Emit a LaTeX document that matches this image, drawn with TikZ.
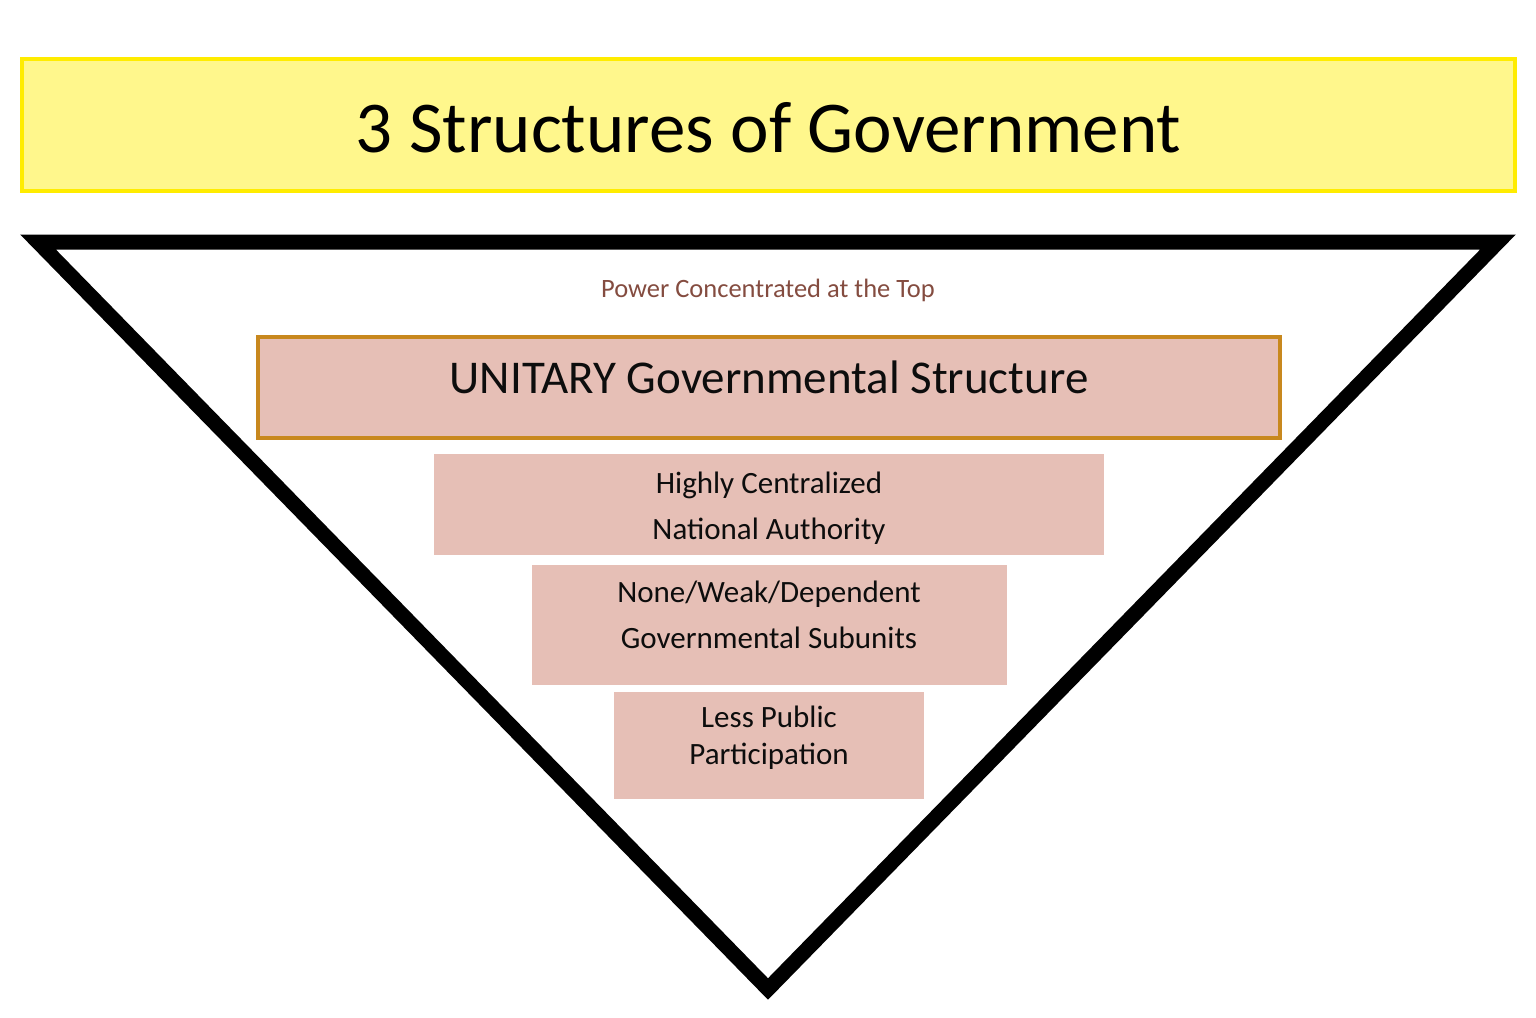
\documentclass[tikz,border=0pt]{standalone}
\usepackage{fontspec}
\setmainfont{Carlito}
\usepackage{tikz}
\usetikzlibrary{positioning}

\definecolor{titlefill}{RGB}{255,247,140}
\definecolor{titleline}{RGB}{255,236,0}
\definecolor{boxfill}{RGB}{230,191,182}
\definecolor{boxline}{RGB}{200,136,30}
\definecolor{powertext}{RGB}{132,76,64}

% raise a (multi-line) label inside its box, keeping the box size
\newcommand{\liftlabel}[2]{\raisebox{#1}[\height][\depth]{\begin{tabular}{@{}c@{}}#2\end{tabular}}}

\begin{document}
\begin{tikzpicture}[x=1pt,y=-1pt,
        every node/.style={outer sep=0pt,inner sep=0pt},
        level/.style={fill=boxfill,text=black!95,
          font=\fontsize{31}{46}\selectfont}]
   \useasboundingbox (0,0) rectangle (1536,1017);
   % heading
   \node (title) [draw=titleline,line width=4,fill=titlefill,
      minimum width=1493,minimum height=132,
      font=\fontsize{73}{88}\selectfont] at (768.5,125) {\liftlabel{-10pt}{3 Structures of Government}};
   % the triangle
   \draw[line width=15,miter limit=10] (38,242) -- (1498,242) -- (768,989) -- cycle;
   \node (power) [text=powertext,font=\fontsize{26.5}{30}\selectfont] at (768,290)
      {Power Concentrated at the Top};
   \node (unitary) [level,draw=boxline,line width=4,minimum width=1022,minimum height=101,
      font=\fontsize{47}{54}\selectfont] at (769,387.5) {\liftlabel{5pt}{UNITARY Governmental Structure}};
   \node (central) [level,minimum width=670,minimum height=101,below=16pt of unitary]
      {\liftlabel{-3pt}{Highly Centralized\\National Authority}};
   \node (subunits) [level,minimum width=475,minimum height=120,below=10pt of central]
      {\liftlabel{9pt}{None/Weak/Dependent\\Governmental Subunits}};
   \node (public) [level,minimum width=310,minimum height=107,below=7pt of subunits,
      font=\fontsize{31}{37}\selectfont] {\liftlabel{7pt}{Less Public\\Participation}};
\end{tikzpicture}
\end{document}
